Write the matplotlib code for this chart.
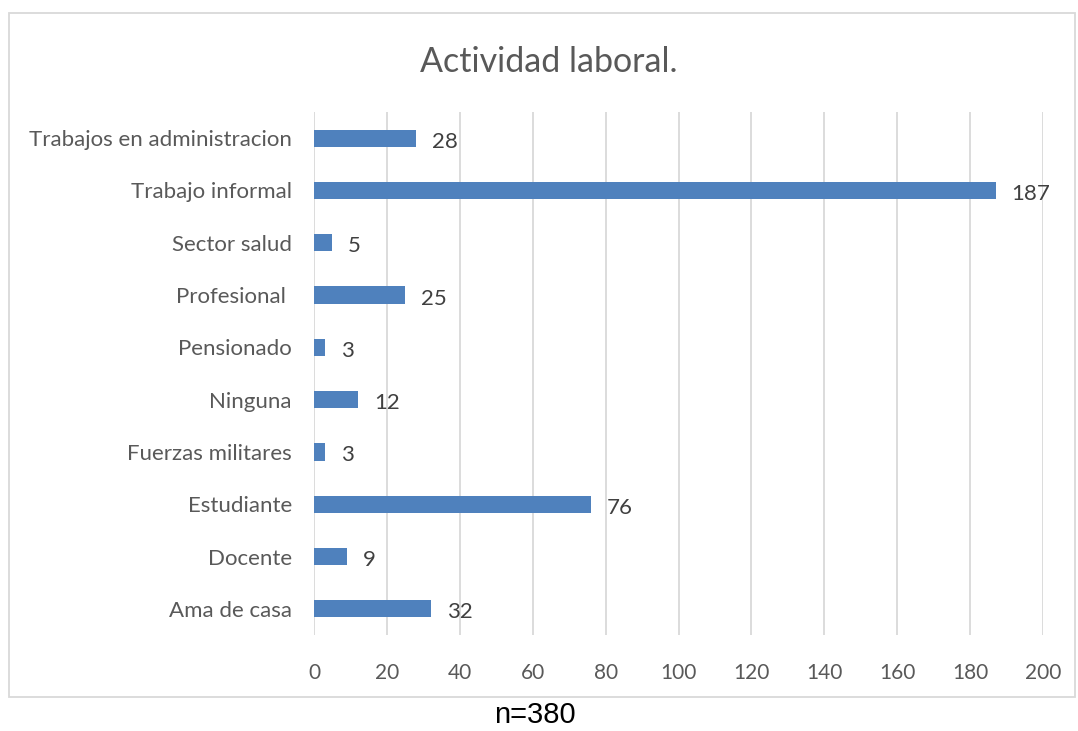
import matplotlib.pyplot as plt
from matplotlib.patches import Rectangle

categorias = ['Ama de casa', 'Docente', 'Estudiante', 'Fuerzas militares', 'Ninguna',
              'Pensionado', 'Profesional ', 'Sector salud', 'Trabajo informal',
              'Trabajos en administracion']
valores = [32, 9, 76, 3, 12, 3, 25, 5, 187, 28]
ticks_x = [0, 20, 40, 60, 80, 100, 120, 140, 160, 180, 200]

gris = '#595959'
fig = plt.figure(figsize=(10.78, 7.31), dpi=100)
W, H = 1078, 731

# marco del grafico
fig.patches.append(Rectangle((9 / W, 1 - 697 / H), 1066 / W, 684 / H,
                             transform=fig.transFigure, fill=False,
                             edgecolor='#D9D9D9', linewidth=1.3))

ax = fig.add_axes([314 / W, 1 - 635 / H, 729 / W, 523 / H])
y = range(len(categorias))
ax.barh(y, valores, height=0.33, color='#4F81BD', zorder=3)
for yi, v in zip(y, valores):
    ax.annotate(str(v), (v, yi), xytext=(11.5, -2.5), textcoords='offset points',
                va='center', ha='left', fontsize=16, color='#404040',
                family='Lato')

ax.set_xlim(0, 200)
ax.set_ylim(-0.5, len(categorias) - 0.5)
ax.set_xticks(ticks_x)
ax.set_yticks(list(y))
ax.set_yticklabels(categorias)
ax.grid(axis='x', color='#D9D9D9', linewidth=1.3, zorder=0)
for s in ax.spines.values():
    s.set_visible(False)
ax.tick_params(length=0, labelsize=16, colors=gris)
ax.tick_params(axis='x', labelsize=15, pad=20)
ax.tick_params(axis='y', pad=16)
for lbl in ax.get_xticklabels() + ax.get_yticklabels():
    lbl.set_family('Lato')

fig.text(549 / W, 1 - 62 / H, 'Actividad laboral.', ha='center', va='center',
         fontsize=24.5, color=gris, family='Lato')
fig.text(535 / W, 1 - 715 / H, 'n=380', ha='center', va='center',
         fontsize=21, color='black', family='Liberation Sans')

fig.savefig('out.png', dpi=100)
